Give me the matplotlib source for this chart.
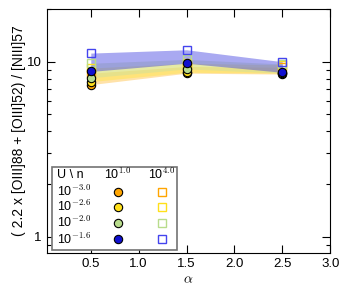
import numpy as np
import matplotlib
matplotlib.use("Agg")
import matplotlib.pyplot as plt
from matplotlib.patches import Rectangle

plt.rcParams['font.family'] = ['Liberation Sans', 'DejaVu Sans']
plt.rcParams['mathtext.fontset'] = 'cm'

# data
alpha = [0.5, 1.5, 2.5]
u_labels = ['10$^{-3.0}$', '10$^{-2.6}$', '10$^{-2.0}$', '10$^{-1.6}$']
n_labels = ['10$^{1.0}$', '10$^{4.0}$']
colors = ['#FFA500', '#FFE01A', '#B8DC8C', '#1010D0']
sq_colors = ['#FFA500', '#FFE01A', '#B8DC8C', '#4444EE']
band_colors = ['#FFC040', '#FFE640', '#C8E0A0', '#4040E0']

ratio_n1 = [
    [7.4, 8.6, 8.5],   # U 10^-3.0
    [7.7, 8.7, 8.6],   # U 10^-2.6
    [8.1, 9.1, 8.6],   # U 10^-2.0
    [8.8, 9.8, 8.7],   # U 10^-1.6
]
ratio_n4 = [
    [8.6, 9.4, 9.3],
    [9.2, 9.8, 9.6],
    [9.8, 10.3, 9.7],
    [11.2, 11.7, 10.0],
]

fig = plt.figure(figsize=(3.49, 2.99), dpi=100)
ax = fig.add_axes([0.134, 0.154, 0.812, 0.816])

for i in range(4):
    ax.fill_between(alpha, ratio_n1[i], ratio_n4[i], color=band_colors[i],
                    alpha=0.45, lw=0, zorder=1)
for i in range(4):
    ax.plot(alpha, ratio_n4[i], ls='none', marker='s', ms=6, mfc='none',
            mec=sq_colors[i], mew=1.0, zorder=3)
for i in range(4):
    ax.plot(alpha, ratio_n1[i], ls='none', marker='o', ms=6, mfc=colors[i],
            mec='black', mew=0.8, zorder=4)

ax.set_yscale('log')
ax.set_xlim(0.04, 3.0)
ax.set_ylim(0.81, 20)
ax.set_xticks([0.5, 1.0, 1.5, 2.0, 2.5, 3.0])
ax.set_xticklabels(['0.5', '1.0', '1.5', '2.0', '2.5', '3.0'])
ax.set_yticks([1, 10])
ax.set_yticklabels(['1', '10'])
ax.tick_params(which='both', direction='in', top=True, right=True, labelsize=9.5)
ax.tick_params(which='major', length=6, width=0.8)
ax.tick_params(which='minor', length=3, width=0.8)
ax.tick_params(axis='x', which='minor', bottom=False, top=False)
ax.set_xlabel(r'$\alpha$', fontsize=10, labelpad=2)
ax.set_ylabel('( 2.2 x [OIII]88 + [OIII]52) / [NIII]57', fontsize=10, labelpad=1)

# table-style legend
ax.add_patch(Rectangle((0.018, 0.012), 0.442, 0.342, transform=ax.transAxes,
                       fc='white', ec='0.45', lw=1.2, zorder=5))
ax.text(0.036, 0.320, 'U \\ n', transform=ax.transAxes, fontsize=9,
        va='center', ha='left', zorder=6)
ax.text(0.251, 0.320, n_labels[0], transform=ax.transAxes, fontsize=9,
        va='center', ha='center', zorder=6)
ax.text(0.406, 0.320, n_labels[1], transform=ax.transAxes, fontsize=9,
        va='center', ha='center', zorder=6)
rows_y = [0.250, 0.190, 0.123, 0.057]
for i in range(4):
    ax.text(0.036, rows_y[i], u_labels[i], transform=ax.transAxes, fontsize=9,
            va='center', ha='left', zorder=6)
    ax.plot([0.251], [rows_y[i]], transform=ax.transAxes, marker='o', ms=6,
            mfc=colors[i], mec='black', mew=0.8, ls='none', zorder=6,
            clip_on=False)
    ax.plot([0.406], [rows_y[i]], transform=ax.transAxes, marker='s', ms=6,
            mfc='none', mec=sq_colors[i], mew=1.0, ls='none', zorder=6,
            clip_on=False)

fig.savefig('out.png', dpi=100)
